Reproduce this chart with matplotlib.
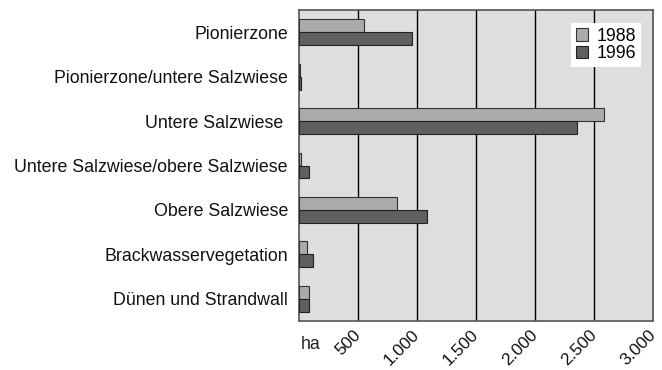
import numpy as np
import matplotlib.pyplot as plt
import matplotlib.transforms as mtransforms
from matplotlib.ticker import FuncFormatter

plt.rcParams['font.family'] = ['Liberation Sans', 'DejaVu Sans']

# Flaechen der Vegetationszonen in ha
zones = ['Pionierzone', 'Pionierzone/untere Salzwiese', 'Untere Salzwiese ',
         'Untere Salzwiese/obere Salzwiese', 'Obere Salzwiese',
         'Brackwasservegetation', 'Dünen und Strandwall']
ha_1988 = [553, 10, 2585, 15, 833, 65, 87]
ha_1996 = [960, 15, 2360, 87, 1082, 116, 87]
xticks = [500, 1000, 1500, 2000, 2500, 3000]

fs = 12.8
fig = plt.figure(figsize=(6.62, 3.70), dpi=100)
ax = fig.add_axes([299/662, 1 - 321/370, 354/662, 311/370])
ax.set_facecolor('#dedede')

y = np.arange(len(zones))
h = 0.29
ax.barh(y - h/2, ha_1988, height=h, color='#ababab', edgecolor='#333333',
        linewidth=0.8, label='1988', zorder=3)
ax.barh(y + h/2, ha_1996, height=h, color='#5f5f5f', edgecolor='#222222',
        linewidth=0.8, label='1996', zorder=3)

ax.set_xlim(0, 3000)
ax.set_ylim(len(zones) - 0.5, -0.5)
ax.set_yticks(y)
ax.set_yticklabels(zones, fontsize=fs, color='#111111')
ax.tick_params(axis='y', length=0, pad=8)

ax.set_xticks(xticks)
ax.xaxis.set_major_formatter(FuncFormatter(lambda v, p: f'{int(v):,}'.replace(',', '.')))
ax.tick_params(axis='x', length=0, pad=3, labelsize=12.4, labelcolor='#111111')
# nudge the slanted labels a little down-left along their baseline
shift = mtransforms.ScaledTranslation(-5/100, -2/100, fig.dpi_scale_trans)
for lab in ax.get_xticklabels():
    lab.set_rotation(45)
    lab.set_ha('right')
    lab.set_va('top')
    lab.set_rotation_mode('anchor')
    lab.set_transform(lab.get_transform() + shift)
ax.grid(axis='x', color='black', linewidth=1.0, zorder=1)

for s in ax.spines.values():
    s.set_color('#555555')
    s.set_linewidth(1.2)

ax.text(0.005, -0.074, 'ha', transform=ax.transAxes, fontsize=fs,
        ha='left', va='center', color='#222222')

leg = ax.legend(loc='upper right', bbox_to_anchor=(0.966, 0.958), fontsize=fs,
                frameon=True, fancybox=False, framealpha=1, edgecolor='white',
                handlelength=0.7, handleheight=0.7, handletextpad=0.5,
                borderpad=0.25, labelspacing=0.05, borderaxespad=0)
leg.get_frame().set_linewidth(0)

fig.savefig('out.png', dpi=100)
